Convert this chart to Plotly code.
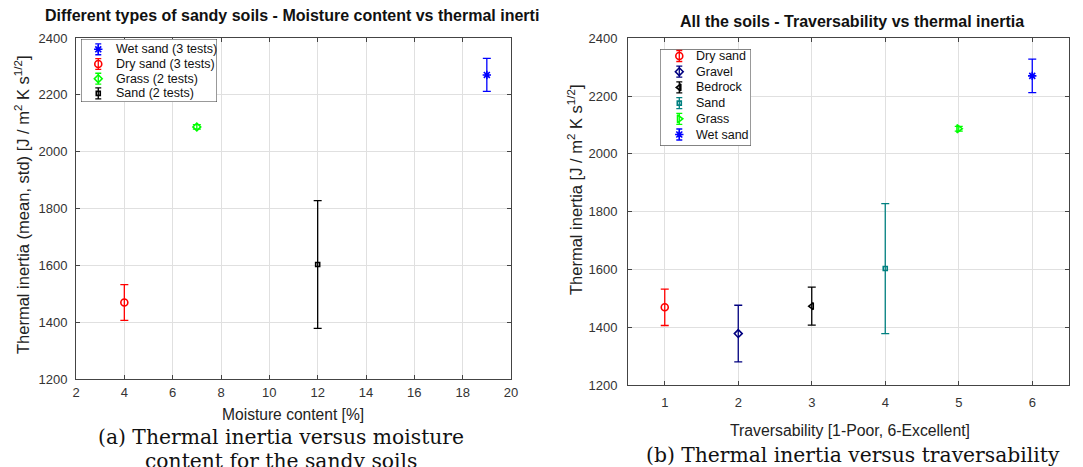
import plotly.graph_objects as go

# ---- data: thermal inertia of the soils (mean and std) ----
moisture_names = ["Wet sand (3 tests)", "Dry sand (3 tests)", "Grass (2 tests)", "Sand (2 tests)"]
moisture_pct = [19, 4, 7, 12]
moisture_mean = [2270, 1469, 2087, 1603]
moisture_std = [58, 63, 8, 225]

trav_names = ["Dry sand", "Gravel", "Bedrock", "Sand", "Grass", "Wet sand"]
trav_score = [1, 2, 3, 4, 5, 6]
trav_mean = [1469, 1378, 1473, 1603, 2087, 2270]
trav_std = [63, 98, 66, 225, 8, 58]

x_ticks_a = [2, 4, 6, 8, 10, 12, 14, 16, 18, 20]
x_ticks_b = [1, 2, 3, 4, 5, 6]
y_ticks = [1200, 1400, 1600, 1800, 2000, 2200, 2400]

# ---- styling ----
W, H = 1083, 467
colors_a = ["#0000ff", "#ff0000", "#00ff00", "#000000"]
symbols_a = ["asterisk-open", "circle-open", "diamond-open", "square-open"]
sizes_a = [7, 7, 6, 4]
colors_b = ["#ff0000", "#000080", "#000000", "#008080", "#00ff00", "#0000ff"]
symbols_b = ["circle-open", "diamond-open", "triangle-left-open", "square-open",
             "triangle-right-open", "asterisk-open"]
sizes_b = [7, 6, 6, 4, 7, 7]

SANS = "Liberation Sans, Arial, sans-serif"
SERIF = "DejaVu Serif, Liberation Serif, serif"


def px_x(p):
    return p / W


def px_y(p):
    return 1 - p / H


fig = go.Figure()


def add_series(names, xs, means, stds, colors, symbols, sizes, xa, ya):
    for name, x, m, s, c, sym, sz in zip(names, xs, means, stds, colors, symbols, sizes):
        fig.add_trace(go.Scatter(
            x=[x], y=[m], name=name, mode="markers", showlegend=False,
            marker=dict(color=c, symbol=sym, size=sz, line=dict(color=c, width=1.6)),
            error_y=dict(type="data", array=[s], color=c, thickness=1.3, width=4),
            xaxis=xa, yaxis=ya,
        ))


add_series(moisture_names, moisture_pct, moisture_mean, moisture_std,
           colors_a, symbols_a, sizes_a, "x", "y")
add_series(trav_names, trav_score, trav_mean, trav_std,
           colors_b, symbols_b, sizes_b, "x2", "y2")


# ---- boxed legends (symbol with error bar + label), each on its own small axes ----
def add_legend(names, colors, symbols, sizes, xa, ya, sym_x, txt_x, y_range, bar):
    idx = list(range(len(names)))
    for i, name, c, sym, sz in zip(idx, names, colors, symbols, sizes):
        fig.add_trace(go.Scatter(
            x=[sym_x], y=[i], mode="markers", showlegend=False, hoverinfo="skip",
            marker=dict(color=c, symbol=sym, size=sz, line=dict(color=c, width=1.6)),
            error_y=dict(type="data", array=[bar], color=c, thickness=1.3, width=3),
            xaxis=xa, yaxis=ya, cliponaxis=False,
        ))
        fig.add_annotation(text=name, x=txt_x, y=i, xref=xa, yref=ya,
                           xanchor="left", yanchor="middle", showarrow=False,
                           font=dict(family=SANS, size=12.5, color="#111111"))
    fig.add_shape(type="rect", xref=xa, yref=ya, x0=0, x1=1,
                  y0=y_range[0], y1=y_range[1], layer="below",
                  fillcolor="white", line=dict(color="#333333", width=1))


add_legend(moisture_names, colors_a, symbols_a, sizes_a, "x3", "y3",
           0.127, 0.245, [3.585, -0.70], 0.37)
add_legend(trav_names, colors_b, symbols_b, sizes_b, "x4", "y4",
           0.212, 0.375, [5.713, -0.427], 0.35)

axis_common = dict(
    showgrid=True, gridcolor="#e0e0e0", gridwidth=1,
    showline=True, linecolor="#444444", linewidth=1, mirror="ticks",
    ticks="inside", ticklen=4, tickcolor="#444444",
    tickfont=dict(family=SANS, size=13, color="#333333"),
    zeroline=False, automargin=False,
)
legend_axis = dict(visible=False, fixedrange=True, automargin=False)

fig.update_layout(
    width=W, height=H,
    margin=dict(l=0, r=0, t=0, b=0),
    paper_bgcolor="white", plot_bgcolor="white",
    font=dict(family=SANS, color="#222222"),
    showlegend=False,
    xaxis=dict(domain=[px_x(76), px_x(511)], range=[2, 20], tickvals=x_ticks_a,
               anchor="y", ticklabelstandoff=1, **axis_common),
    yaxis=dict(domain=[px_y(379), px_y(38)], range=[1200, 2400], tickvals=y_ticks,
               anchor="x", ticklabelstandoff=5, **axis_common),
    xaxis2=dict(domain=[px_x(628), px_x(1069)], range=[0.5, 6.5], tickvals=x_ticks_b,
                anchor="y2", ticklabelstandoff=5, **axis_common),
    yaxis2=dict(domain=[px_y(385), px_y(38.3)], range=[1200, 2400], tickvals=y_ticks,
                anchor="x2", ticklabelstandoff=7, **axis_common),
    xaxis3=dict(domain=[px_x(81), px_x(217)], range=[0, 1], anchor="y3", **legend_axis),
    yaxis3=dict(domain=[px_y(102), px_y(39)], range=[3.585, -0.70], anchor="x3",
                **legend_axis),
    xaxis4=dict(domain=[px_x(660), px_x(751)], range=[0, 1], anchor="y4", **legend_axis),
    yaxis4=dict(domain=[px_y(145.7), px_y(49.3)], range=[5.713, -0.427], anchor="x4",
                **legend_axis),
)

annotations = [
    # subplot titles
    dict(text="<b>Different types of sandy soils - Moisture content vs thermal inerti</b>",
         x=px_x(43), y=px_y(15), xanchor="left", yanchor="middle",
         font=dict(family=SANS, size=16, color="#111111")),
    dict(text="<b>All the soils - Traversability vs thermal inertia</b>",
         x=px_x(852), y=px_y(21), xanchor="center", yanchor="middle",
         font=dict(family=SANS, size=16, color="#111111")),
    # axis titles
    dict(text="Moisture content [%]", x=px_x(293), y=px_y(414),
         xanchor="center", yanchor="middle",
         font=dict(family=SANS, size=15.6, color="#222222")),
    dict(text="Traversability [1-Poor, 6-Excellent]", x=px_x(850), y=px_y(430),
         xanchor="center", yanchor="middle",
         font=dict(family=SANS, size=15.8, color="#222222")),
    dict(text="Thermal inertia (mean, std) [J / m<sup>2</sup> K s<sup>1/2</sup>]",
         x=px_x(22), y=px_y(205), xanchor="center", yanchor="middle", textangle=-90,
         font=dict(family=SANS, size=16.5, color="#222222")),
    dict(text="Thermal inertia [J / m<sup>2</sup> K s<sup>1/2</sup>]",
         x=px_x(575), y=px_y(190), xanchor="center", yanchor="middle", textangle=-90,
         font=dict(family=SANS, size=16.5, color="#222222")),
    # captions
    dict(text="(a) Thermal inertia versus moisture",
         x=px_x(281), y=px_y(437), xanchor="center", yanchor="middle",
         font=dict(family=SERIF, size=20.3, color="#111111")),
    dict(text="content for the sandy soils",
         x=px_x(281), y=px_y(461), xanchor="center", yanchor="middle",
         font=dict(family=SERIF, size=20.3, color="#111111")),
    dict(text="(b) Thermal inertia versus traversability",
         x=px_x(644), y=px_y(455), xanchor="left", yanchor="middle",
         font=dict(family=SERIF, size=20.3, color="#111111")),
]
for a in annotations:
    a.update(xref="paper", yref="paper", showarrow=False)
    fig.add_annotation(**a)

fig.write_html("out.html")
